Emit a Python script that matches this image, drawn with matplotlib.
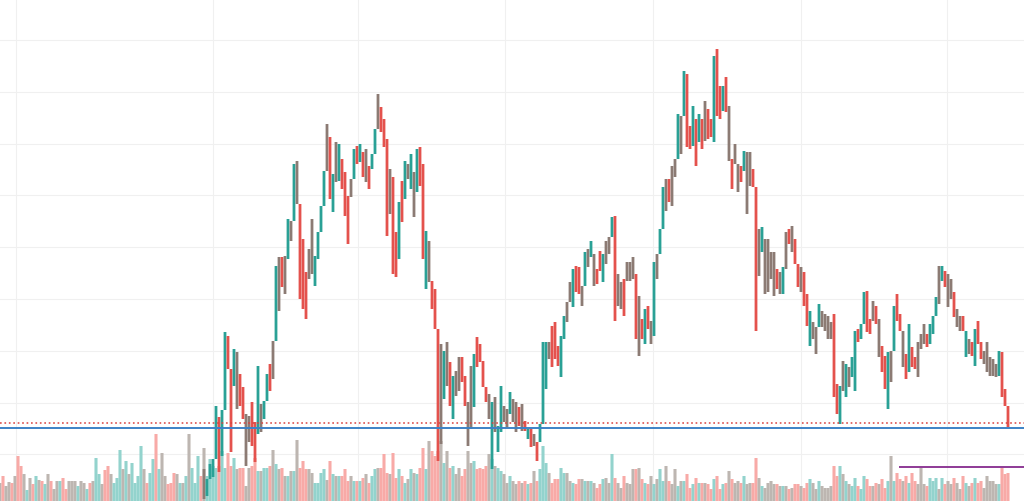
import numpy as np
import matplotlib
matplotlib.use("Agg")
import matplotlib.pyplot as plt

highs = [32,22,37,42,95,84,91,169,165,132,152,149,127,114,87,85,99,79,135,97,100,127,137,160,
 235,244,244,245,282,280,337,340,297,262,229,252,282,245,269,295,330,377,364,327,359,357,342,329,305,322,352,355,357,349,352,335,347,372,407,394,382,362,332,324,269,299,320,340,337,347,329,352,354,337,270,260,220,212,
 172,157,150,159,139,125,130,144,144,125,99,135,147,164,157,140,114,107,99,104,75,115,95,92,109,102,99,94,97,80,72,72,67,59,77,
 159,159,159,175,179,155,165,185,199,219,232,235,234,215,249,252,260,247,232,250,247,260,264,284,285,227,219,222,239,239,244,227,205,182,192,195,180,239,247,272,
 314,322,322,335,342,387,385,430,427,375,395,382,387,382,400,392,382,445,452,415,415,424,395,342,357,337,335,350,349,349,332,314,272,274,262,262,249,249,232,229,234,269,272,275,262,235,234,229,207,
 190,179,174,197,190,187,185,179,187,117,115,140,137,134,144,170,172,177,209,210,182,200,195,182,155,145,149,150,195,207,187,147,147,177,154,144,159,167,177,167,177,185,204,235,235,230,227,222,209,192,185,185,167,162,159,172,180,159,150,159,144,142,137,150,149,112,92]

lows = [2,5,22,24,64,29,45,119,132,49,115,92,95,82,35,59,55,39,67,69,82,102,110,122,
 182,190,214,207,242,260,294,297,202,192,182,222,227,215,242,272,295,345,302,289,319,320,312,285,257,304,324,337,339,324,319,312,332,352,372,369,354,265,287,227,224,242,279,302,322,312,284,309,315,242,212,219,192,172,
 40,57,102,115,95,82,105,110,119,95,55,72,94,134,139,114,99,82,32,69,49,69,79,74,87,79,69,75,70,70,62,54,55,40,59,
 85,112,142,134,142,135,124,162,179,199,194,209,207,195,215,234,244,215,217,230,219,237,247,265,180,195,192,185,220,220,222,162,145,162,157,172,157,165,222,257,
 290,290,299,295,324,344,347,385,354,352,355,335,359,352,360,362,364,359,385,382,390,389,340,312,337,309,319,330,287,315,314,170,225,249,207,209,222,205,212,207,207,232,257,249,237,214,209,195,175,
 155,162,147,175,174,170,162,162,104,87,77,110,104,114,124,110,159,162,177,169,167,180,177,144,129,112,92,119,179,180,170,134,122,129,134,132,124,152,157,154,157,167,189,197,220,214,194,202,184,174,170,170,144,147,145,135,157,142,137,129,125,125,124,125,104,95,74]

directions = ("fuuuuduuddufddffddufuudf"
 "ufdfufufdddffuuuufdufuddd" "fududfduufdddfddudufufuddufdd"
 "dfufduffdd" "ffuddddfuf" "uuffuffdfd" "udfdu"
 "uufddduuff" "uddfufufdd" "uffudffdff" "fdfdudfufu"
 "ufdffufudd" "ududfddudd" "udfdffduff" "ddfuffffdf" "ufdfddfdd"
 "uffuffffdd" "ufufuuduud" "dfdfddufud" "dfduddfffd" "uuufudffdf" "fdufduddff" "fffuddd")

volumes = [15,22,12,16,15,22,42,32,24,8,20,14,22,18,17,14,24,17,9,17,17,20,9,17,17,17,12,17,15,9,15,17,40,24,14,28,32,24,15,20,48,29,37,24,35,15,22,52,29,15,25,39,64,29,45,22,14,15,25,24,15,15,22,64,30,15,42,22,50,22,39,32,30,32,47,30,45,32,40,29,30,30,12,30,32,40,27,27,30,30,32,48,34,29,30,22,22,27,27,58,30,37,29,29,25,15,15,25,29,18,37,24,22,
 22,22,29,17,22,17,17,17,20,24,15,22,29,30,30,44,25,24,45,20,29,22,15,19,29,25,24,30,50,29,57,47,42,47,57,35,47,30,32,24,30,22,29,47,35,37,29,30,29,32,44,39,32,30,27,24,15,22,17,14,17,15,17,14,15,27,17,29,52,35,25,15,19,19,30,25,25,17,15,14,19,19,17,17,17,15,10,14,19,20,15,44,20,15,10,22,15,14,29,29,30,19,15,14,22,14,19,29,17,32,17,14,29,12,
 17,17,24,10,14,20,15,15,15,14,9,19,22,9,14,15,27,19,15,17,15,22,14,15,15,40,20,12,10,15,17,14,14,12,12,12,9,10,14,14,12,10,15,19,15,9,17,12,10,10,12,32,22,32,24,17,14,12,20,12,9,22,19,12,12,15,14,19,10,17,42,17,25,19,17,22,15,25,17,14,30,14,12,20,17,20,9,20,14,17,14,20,15,9,22,15,12,15,20,15,17,10,22,17,17,14,14,30,24,25]

earlier_directions = "fdffdfddfu" "fdufdufdff" "uddfffuffu" "dfuufddfuu" "ufufuuuufd" "uuduffdddf" "ufufuuud"

grid_levels = [47,98,150,202,254,306,357,409,461]
grid_sessions = [-62.7,3,51.3,100.3,149.7,199,247.7]
support_level = 73.5
alert_level = 77.7
target_level = 33.7
target_start = 231.7
volume_floor = 3

candle_colors = {"u":"#2aa196","d":"#e4524d","f":"#8c7b74"}
volume_colors = {"u":"#93d3cd","d":"#f8aaa7","f":"#bdb6b1"}

fig = plt.figure(figsize=(10.24,5.02),dpi=100)
ax = fig.add_axes([0,0,1,1])
ax.set_xlim(-68,(1024-204)/3)
ax.set_ylim(0,502)
for s in ax.spines.values():
    s.set_visible(False)
ax.set_xticks(grid_sessions)
ax.set_yticks(grid_levels)
ax.tick_params(left=False,bottom=False,labelleft=False,labelbottom=False)
ax.grid(True,color="#f0f0f0",lw=0.8)
ax.set_axisbelow(True)

vx = np.arange(len(volumes))-len(earlier_directions)
vdir = earlier_directions+directions
vol_bars = ax.vlines(vx,0,np.array(volumes)+volume_floor,colors=[volume_colors[c] for c in vdir],linewidth=2.2,zorder=2)
vol_bars.set_snap(False)

cx = np.arange(len(highs))
hi = np.array(highs,float)
lo = np.array(lows,float)
# each candle opens where the previous one ended, so gaps between ranges close
top = hi.copy()
bot = lo.copy()
top[1:] = np.maximum(hi[1:],lo[:-1])
bot[1:] = np.minimum(lo[1:],hi[:-1])
candles = ax.vlines(cx,bot,top,colors=[candle_colors[c] for c in directions],linewidth=2.0,zorder=3)
candles.set_snap(False)

ax.axhline(support_level,color="#3d82c6",lw=1.4,zorder=4)
ax.axhline(alert_level,color="#d8433f",lw=1.1,ls=(0,(1.1,1.8)),zorder=4)
ax.hlines(target_level,target_start,ax.get_xlim()[1],color="#8e3a96",lw=1.4,zorder=4)

fig.savefig("out.png",dpi=100)
